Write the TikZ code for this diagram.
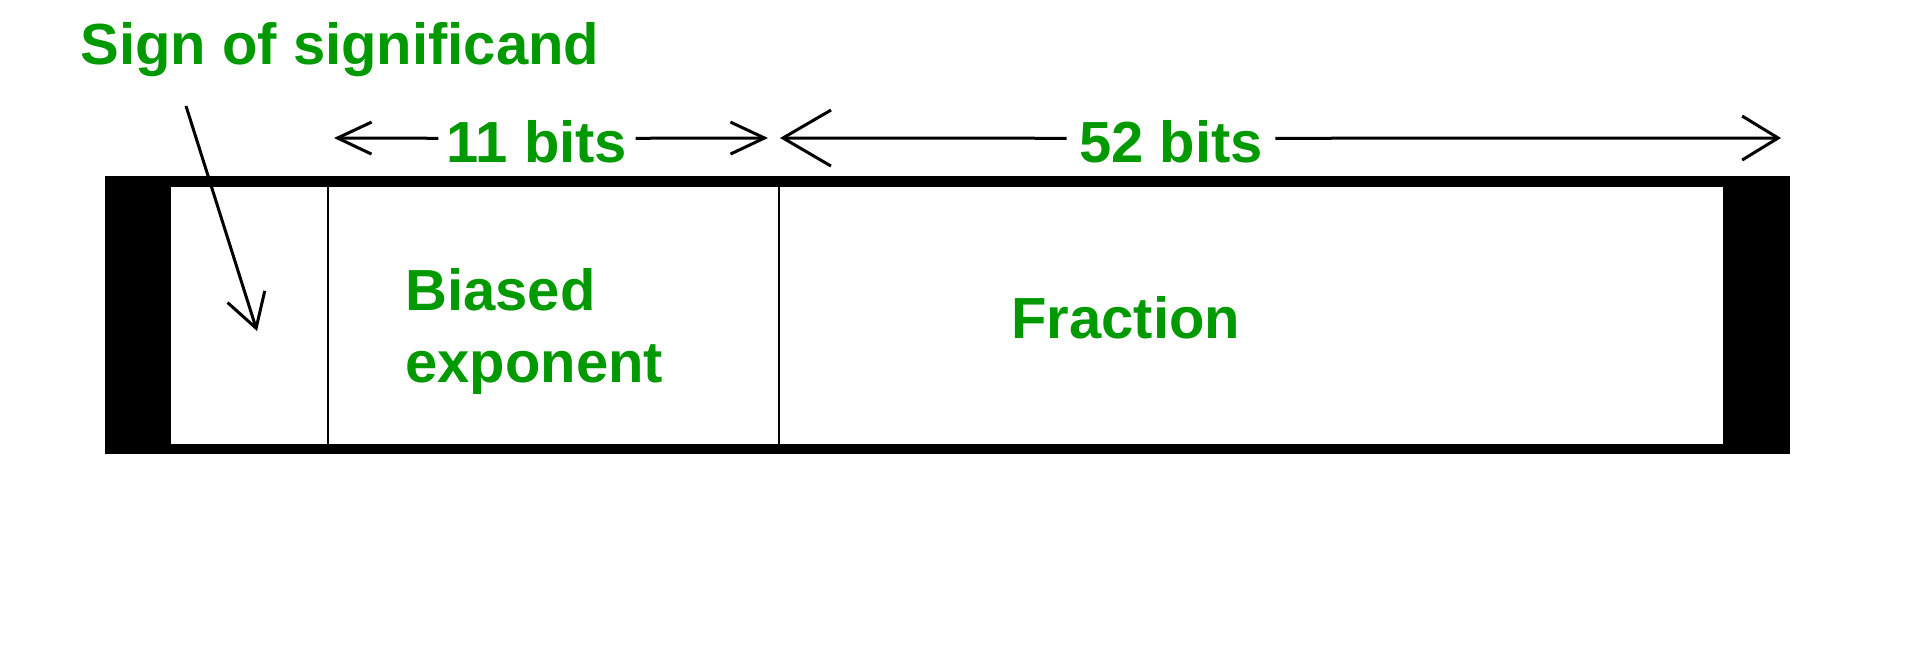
\documentclass[tikz,border=0pt]{standalone}
\usepackage{fontspec}
\setmainfont{Liberation Sans}
\usepackage{xcolor}
\usepackage{tikz}
\usetikzlibrary{arrows.meta,positioning}
\definecolor{labelgreen}{RGB}{0,153,0}
\tikzset{
greentext/.style={text=labelgreen, font=\bfseries\fontsize{29}{36}\selectfont, inner sep=0pt},
dimarrow/.style={line width=1.5pt, -{Straight Barb[length=17pt,width=16pt]}},
}

\begin{document}
\begin{tikzpicture}[x=0.5pt,y=-0.5pt]
\useasboundingbox (0,0) rectangle (1920,652);
\fill (105,176) rectangle (1790,454);
\fill[white] (171,187) rectangle (1723,444);
\foreach \x in {328,779} {
\draw[line width=1.2pt] (\x,187) -- (\x,444); }

\node[greentext, anchor=base west] (sign) at (80,65) {Sign of significand};
\coordinate (signtail) at (186,106);
\coordinate (signtip) at (257,331);
\draw[dimarrow, -{Straight Barb[length=16.5pt,width=19.5pt]}] (signtail) -- (signtip);

\node[greentext, anchor=west, align=left] (exponent) at (405,332) {Biased\\exponent};
\node[greentext, anchor=base west] (fraction) at (1011,338) {Fraction};

\node[greentext, anchor=base, text height=25pt, inner xsep=4pt] (bitsexp) at (537,163) {11 bits};
\coordinate (expleft) at (334,138);
\coordinate (expright) at (768,138);
\draw[dimarrow] (bitsexp.west) -- (expleft);
\draw[dimarrow] (bitsexp.east) -- (expright);

\node[greentext, anchor=base, text height=25pt, inner xsep=6pt] (bitsfrac) at (1171,163) {52 bits};
\coordinate (fracleft) at (780,138);
\coordinate (fracright) at (1781,138);
\draw[dimarrow, -{Straight Barb[length=24pt,width=28pt]}] (bitsfrac.west) -- (fracleft);
\draw[dimarrow, -{Straight Barb[length=18pt,width=22pt]}] (bitsfrac.east) -- (fracright);
\end{tikzpicture}
\end{document}
